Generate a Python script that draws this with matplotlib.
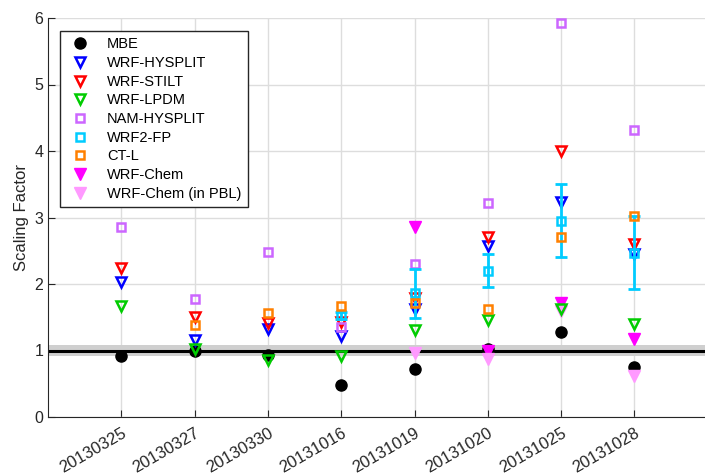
import numpy as np
import matplotlib
matplotlib.use("Agg")
import matplotlib.pyplot as plt

nan = np.nan
dates = ["20130325", "20130327", "20130330", "20131016",
         "20131019", "20131020", "20131025", "20131028"]
mbe          = [0.92, 1.00, 0.93, 0.48, 0.72, 1.03, 1.28, 0.75]
wrf_hysplit  = [2.03, 1.16, 1.32, 1.22, 1.63, 2.57, 3.24, 2.45]
wrf_stilt    = [2.24, 1.51, 1.42, 1.43, 1.79, 2.71, 4.00, 2.60]
wrf_lpdm     = [1.67, 1.02, 0.86, 0.91, 1.31, 1.46, 1.62, 1.40]
nam_hysplit  = [2.86, 1.78, 2.48, 1.36, 2.30, 3.22, 5.93, 4.32]
wrf2_fp      = [nan, nan, nan, 1.53, 1.86, 2.20, 2.95, 2.47]
wrf2_fp_err  = [nan, nan, nan, 0.05, 0.37, 0.25, 0.55, 0.55]
ct_l         = [nan, 1.39, 1.57, 1.67, 1.72, 1.62, 2.70, 3.02]
wrf_chem     = [nan, nan, nan, nan, 2.86, 1.00, 1.72, 1.17]
wrf_chem_pbl = [nan, nan, nan, nan, 0.96, 0.87, 1.60, 0.62]

plt.rcParams["font.family"] = ["Liberation Sans", "DejaVu Sans"]

x = np.arange(1, len(dates) + 1)
fig = plt.figure(figsize=(7.05, 4.75), dpi=100)
ax = fig.add_axes([48 / 705, 58 / 475, 657 / 705, 399 / 475])

# reference line at 1 with grey band
ax.axhspan(0.92, 1.08, color="#cfcfcf", lw=0, zorder=1)
ax.axhline(1.0, color="k", lw=2.2, zorder=2)

h = []
h += ax.plot(x, mbe, "o", color="k", ms=8, label="MBE", zorder=3)
h += ax.plot(x, wrf_hysplit, "v", mfc="none", mec="#0000ff", mew=1.8, ms=7.5, label="WRF-HYSPLIT", zorder=4)
h += ax.plot(x, wrf_stilt, "v", mfc="none", mec="#ff0000", mew=1.8, ms=7.5, label="WRF-STILT", zorder=4)
h += ax.plot(x, wrf_lpdm, "v", mfc="none", mec="#00cc00", mew=1.8, ms=7.5, label="WRF-LPDM", zorder=4)
h += ax.plot(x, nam_hysplit, "s", mfc="none", mec="#cc66ff", mew=1.8, ms=6, label="NAM-HYSPLIT", zorder=4)
ax.errorbar(x, wrf2_fp, yerr=wrf2_fp_err, fmt="none", ecolor="#00ccff",
            elinewidth=2, capsize=4, capthick=2, zorder=4)
h += ax.plot(x, wrf2_fp, "s", mfc="none", mec="#00ccff", mew=1.8, ms=6, label="WRF2-FP", zorder=4)
h += ax.plot(x, ct_l, "s", mfc="none", mec="#ff8000", mew=1.8, ms=6, label="CT-L", zorder=4)
h += ax.plot(x, wrf_chem, "v", color="#ff00ff", ms=9, label="WRF-Chem", zorder=3)
h += ax.plot(x, wrf_chem_pbl, "v", color="#ff99ff", ms=9, label="WRF-Chem (in PBL)", zorder=3)

ax.set_xlim(0, 657 / 73.3)
ax.set_ylim(0, 6)
ax.set_xticks(x)
ax.set_xticklabels(dates, rotation=30, ha="right", rotation_mode="anchor", fontsize=12, color="#262626")
ax.set_yticks(range(0, 7))
ax.tick_params(axis="y", labelsize=11.5, colors="#262626", direction="in", length=5)
ax.tick_params(axis="x", direction="in", length=5, colors="#262626", pad=6)
ax.set_ylabel("Scaling Factor", fontsize=12, color="#262626")
ax.grid(True, color="#dddddd", lw=1)
ax.set_axisbelow(True)
for s in ["top", "right"]:
    ax.spines[s].set_visible(False)
for s in ["left", "bottom"]:
    ax.spines[s].set_color("#262626")

leg = ax.legend(handles=h, loc="upper left", bbox_to_anchor=(0.018, 0.968), borderaxespad=0,
                fontsize=10.5, labelspacing=0.32, handletextpad=1.0, borderpad=0.45,
                handlelength=1.8, fancybox=False, edgecolor="#262626", framealpha=1, numpoints=1)
leg.get_frame().set_linewidth(1)

fig.savefig("out.png", dpi=100)
